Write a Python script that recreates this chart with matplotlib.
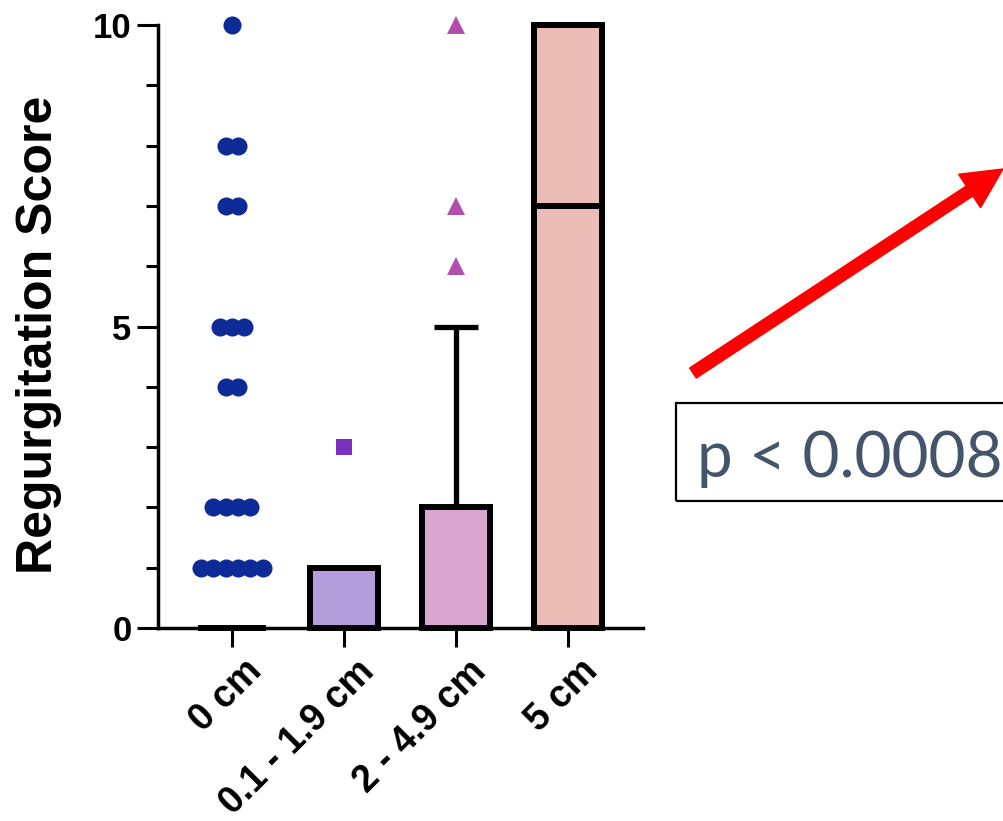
import matplotlib
matplotlib.use("Agg")
import matplotlib.pyplot as plt
from matplotlib.patches import Rectangle, FancyArrow
from matplotlib.transforms import IdentityTransform, ScaledTranslation
from matplotlib.ticker import MultipleLocator, FixedLocator
from collections import Counter

# data
categories = ['0 cm', '0.1 - 1.9 cm', '2 - 4.9 cm', '5 cm']
bar_heights = [0, 1, 2, 10]
bar_colors = ['white', '#B39DDB', '#D9A6D0', '#ECBCB7']
points_0cm = [10, 8, 8, 7, 7, 5, 5, 5, 4, 4, 2, 2, 2, 2, 1, 1, 1, 1, 1, 1]
points_01cm = [3]
points_2cm = [10, 7, 6]
err_upper_2cm = 5
median_5cm = 7
p_text = 'p < 0.0008'

plt.rcParams['font.family'] = ['Liberation Sans', 'DejaVu Sans']

fig = plt.figure(figsize=(10.04, 8.21), dpi=100)
W, H = 1004, 821
ax = fig.add_axes([158 / W, (H - 628) / H, (643 - 158) / W, (628 - 25) / H])

bw = 0.6
lw = 4.3
ax.bar(range(len(categories)), bar_heights, width=bw, color=bar_colors,
       edgecolor='black', linewidth=lw, zorder=3, clip_on=False)

# error bar on 2 - 4.9 cm (upper only)
ax.errorbar(2, bar_heights[2], yerr=[[0], [err_upper_2cm - bar_heights[2]]],
            fmt='none', ecolor='black', elinewidth=3.8, capsize=15.5,
            capthick=3.8, zorder=2)

# median line in 5 cm bar
ax.hlines(median_5cm, 3 - bw / 2, 3 + bw / 2, color='black', linewidth=lw, zorder=4)


def spread(vals, center, step=0.11):
    xs, ys = [], []
    counts = Counter(vals)
    for v, n in counts.items():
        for i in range(n):
            xs.append(center + (i - (n - 1) / 2) * step)
            ys.append(v)
    return xs, ys


x0, y0 = spread(points_0cm, 0)
ax.plot(x0, y0, 'o', color='#0E2A96', markersize=13, markeredgewidth=0,
        zorder=5, clip_on=False)
x1, y1 = spread(points_01cm, 1)
ax.plot(x1, y1, 's', color='#7B2FC0', markersize=12, markeredgewidth=0,
        zorder=5, clip_on=False)
x2, y2 = spread(points_2cm, 2)
ax.plot(x2, y2, '^', color='#B24FAC', markersize=13, markeredgewidth=0,
        zorder=5, clip_on=False)

ax.set_xlim(-0.66, 3.67)
ax.set_ylim(0, 10)
for s in ['top', 'right']:
    ax.spines[s].set_visible(False)
for s in ['left', 'bottom']:
    ax.spines[s].set_linewidth(2.5)

ax.yaxis.set_major_locator(FixedLocator([0, 5, 10]))
ax.yaxis.set_minor_locator(MultipleLocator(1))
ax.tick_params(axis='y', which='major', length=15, width=2.2, labelsize=25, pad=4)
ax.tick_params(axis='y', which='minor', length=9, width=2.2)
ax.tick_params(axis='x', which='major', length=14, width=2.2, labelsize=27, pad=4)
for t in ax.get_yticklabels():
    t.set_fontweight('bold')

ax.set_xticks(range(len(categories)))
ax.set_xticklabels(categories, rotation=45, ha='right', rotation_mode='anchor',
                   fontweight='bold')
shift = ScaledTranslation(12 / 100, 0, fig.dpi_scale_trans)
for t in ax.get_xticklabels():
    t.set_transform(t.get_transform() + shift)

ax.set_ylabel('Regurgitation Score', fontsize=36, fontweight='bold')
ax.yaxis.set_label_coords(-0.198, 0.486)

# red arrow and p-value box (pixel coordinates)
arrow = FancyArrow(693, H - 373, 310, 204, width=12, head_width=40,
                   head_length=40, length_includes_head=True, color='#FF0000',
                   transform=IdentityTransform())
fig.add_artist(arrow)
box = Rectangle((676, H - 501), 340, 98, fill=False, edgecolor='black',
                linewidth=1.6, transform=IdentityTransform())
fig.add_artist(box)
fig.text(697 / W, (H - 477) / H, p_text, fontsize=46, color='#44546A',
         family=['Lato', 'DejaVu Sans'], va='baseline', ha='left')

fig.savefig('out.png', dpi=100)
